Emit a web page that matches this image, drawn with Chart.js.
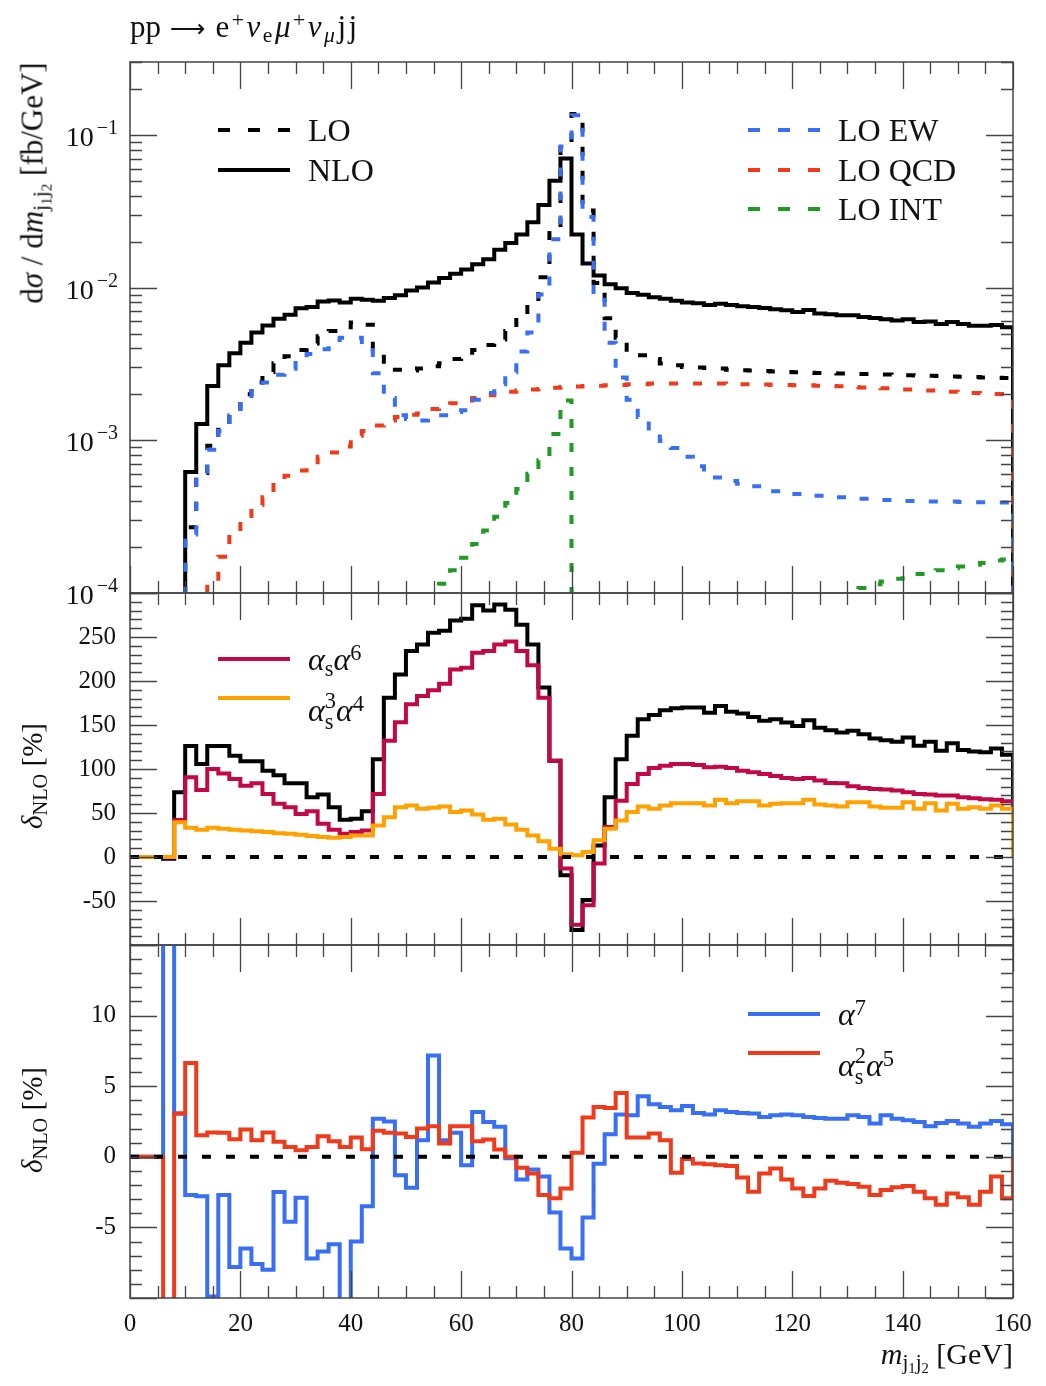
<!DOCTYPE html>
<html><head><meta charset="utf-8">
<script src="https://cdn.jsdelivr.net/npm/chart.js@4.4.1/dist/chart.umd.min.js"></script>
<style>
body{margin:0;background:#fff;}
#wrap{position:relative;width:1046px;height:1386px;overflow:hidden;font-family:"Liberation Serif","DejaVu Serif",serif;color:#111;background:#fff;}
canvas{position:absolute;left:0;}
.txt{position:absolute;white-space:nowrap;line-height:1;z-index:5;}
sub,sup{font-size:0.7em;line-height:0;position:relative;vertical-align:baseline;}
sup{top:-0.45em;} sub{top:0.25em;}
.ss{display:inline-block;font-size:0.7em;line-height:0.95;position:relative;top:0.36em;text-align:left;}
.ss>span{display:block;}
.ytitle{transform:translate(-50%,-50%) rotate(-90deg);}
.leg{position:absolute;z-index:5;white-space:nowrap;line-height:1;font-size:32px;}
.leg svg{position:absolute;left:0;}
.arrow{font-family:"DejaVu Sans",sans-serif;font-size:0.8em;margin:0 10px 0 9px;}
.math{letter-spacing:2.5px;}
</style></head>
<body>
<div id="wrap">
  <canvas id="c1" width="1046" height="633" style="top:0px"></canvas>
  <canvas id="c2" width="1046" height="432" style="top:553px"></canvas>
  <canvas id="c3" width="1046" height="481" style="top:905px"></canvas>

  <div class="txt" style="left:130px;top:11px;font-size:31px">pp<span class="arrow">⟶</span><span class="math">e<sup>+</sup><i>ν</i><sub>e</sub><i>μ</i><sup>+</sup><i>ν</i><sub><i>μ</i></sub>jj</span></div>
  <div class="txt ytitle" style="left:32px;top:183px;font-size:31px">d<i>σ</i> / d<i>m</i><sub>j<sub>1</sub>j<sub>2</sub></sub> [fb/GeV]</div>
  <div class="txt ytitle" style="left:32px;top:776px;font-size:29px"><i>δ</i><sub>NLO</sub> [%]</div>
  <div class="txt ytitle" style="left:32px;top:1120px;font-size:29px"><i>δ</i><sub>NLO</sub> [%]</div>
  <div class="txt" style="right:33px;top:1339px;font-size:30px"><i>m</i><sub>j<sub>1</sub>j<sub>2</sub></sub> [GeV]</div>
  <div id="legends"></div>
</div>
<script>
// ---------------- data ----------------
const binStart = 0;
const binWidth = 2;
const xTicks = [0, 20, 40, 60, 80, 100, 120, 140, 160];
const topYTicks = [1e-4, 1e-3, 1e-2, 1e-1];
const midYTicks = [-50, 0, 50, 100, 150, 200, 250];
const botYTicks = [-5, 0, 5, 10];

// d sigma / d m_j1j2 [fb/GeV], 2 GeV bins from 0 to 160
const nloValues = [0,0,0,0,0,
 6.2e-4,1.28e-3,2.27e-3,3.10e-3,3.72e-3,
 4.35e-3,5.08e-3,5.64e-3,6.25e-3,6.65e-3,
 7.31e-3,7.46e-3,8.11e-3,8.24e-3,7.98e-3,
 8.45e-3,8.32e-3,8.2e-3,8.55e-3,8.91e-3,
 9.58e-3,1.0e-2,1.079e-2,1.156e-2,1.23e-2,
 1.315e-2,1.42e-2,1.53e-2,1.77e-2,1.96e-2,
 2.23e-2,2.68e-2,3.47e-2,5.0e-2,7.0e-2,
 2.23e-2,1.435e-2,1.20e-2,1.05e-2,9.89e-3,
 9.23e-3,8.99e-3,8.63e-3,8.45e-3,8.19e-3,
 7.98e-3,7.9e-3,7.7e-3,7.85e-3,7.7e-3,
 7.55e-3,7.45e-3,7.35e-3,7.2e-3,7.1e-3,
 6.93e-3,7.12e-3,6.76e-3,6.7e-3,6.59e-3,
 6.59e-3,6.42e-3,6.33e-3,6.2e-3,6.09e-3,
 6.2e-3,5.94e-3,6.0e-3,5.78e-3,5.94e-3,
 5.78e-3,5.63e-3,5.63e-3,5.68e-3,5.49e-3];

const loValues = [0,0,0,0,0,
 2.69e-4,6.1e-4,9.2e-4,1.25e-3,1.6e-3,
 2.0e-3,2.4e-3,2.8e-3,3.2e-3,3.55e-3,
 3.9e-3,4.3e-3,4.8e-3,5.2e-3,5.5e-3,
 5.9e-3,5.7e-3,3.95e-3,3.05e-3,2.9e-3,
 2.86e-3,2.95e-3,3.05e-3,3.2e-3,3.4e-3,
 3.56e-3,3.9e-3,4.2e-3,4.57e-3,5.2e-3,
 6.4e-3,8.1e-3,1.17e-2,2.4e-2,8.7e-2,
 0.137,3.2e-2,1.07e-2,6.3e-3,4.7e-3,
 3.92e-3,3.6e-3,3.4e-3,3.18e-3,3.1e-3,
 3.02e-3,3.0e-3,2.97e-3,2.95e-3,2.9e-3,
 2.88e-3,2.86e-3,2.84e-3,2.82e-3,2.8e-3,
 2.79e-3,2.77e-3,2.76e-3,2.75e-3,2.74e-3,
 2.73e-3,2.72e-3,2.71e-3,2.7e-3,2.68e-3,
 2.67e-3,2.66e-3,2.65e-3,2.64e-3,2.62e-3,
 2.61e-3,2.6e-3,2.58e-3,2.57e-3,2.56e-3];

const loEwValues = [0,0,0,0,0,
 2.42e-4,6.0e-4,8.67e-4,1.15e-3,1.46e-3,
 1.79e-3,2.10e-3,2.39e-3,2.69e-3,2.94e-3,
 3.35e-3,3.68e-3,3.95e-3,4.53e-3,4.70e-3,
 4.70e-3,4.1e-3,2.75e-3,1.89e-3,1.46e-3,
 1.38e-3,1.35e-3,1.38e-3,1.46e-3,1.53e-3,
 1.57e-3,1.84e-3,2.04e-3,2.33e-3,2.79e-3,
 3.81e-3,5.08e-3,9.0e-3,2.07e-2,8.4e-2,
 0.1345,2.9e-2,9.37e-3,4.35e-3,2.58e-3,
 1.84e-3,1.42e-3,1.13e-3,9.9e-4,8.89e-4,
 7.8e-4,6.75e-4,6.18e-4,5.71e-4,5.42e-4,
 5.2e-4,5.01e-4,4.76e-4,4.64e-4,4.52e-4,
 4.45e-4,4.36e-4,4.33e-4,4.25e-4,4.23e-4,
 4.18e-4,4.14e-4,4.07e-4,4.07e-4,4.05e-4,
 4.01e-4,4.01e-4,3.97e-4,3.97e-4,3.97e-4,
 3.95e-4,3.93e-4,3.93e-4,3.91e-4,3.91e-4];

const loQcdValues = [0,0,0,0,0,
 0,0,1.2e-4,1.73e-4,2.46e-4,
 3.09e-4,3.77e-4,4.23e-4,5.09e-4,5.86e-4,
 6.34e-4,6.85e-4,7.8e-4,8.31e-4,9.12e-4,
 1.07e-3,1.15e-3,1.25e-3,1.35e-3,1.42e-3,
 1.47e-3,1.50e-3,1.60e-3,1.70e-3,1.75e-3,
 1.82e-3,1.89e-3,1.97e-3,2.01e-3,2.08e-3,
 2.12e-3,2.15e-3,2.17e-3,2.21e-3,2.23e-3,
 2.25e-3,2.27e-3,2.28e-3,2.29e-3,2.30e-3,
 2.33e-3,2.33e-3,2.35e-3,2.35e-3,2.35e-3,
 2.35e-3,2.35e-3,2.35e-3,2.35e-3,2.34e-3,
 2.33e-3,2.33e-3,2.32e-3,2.30e-3,2.30e-3,
 2.29e-3,2.29e-3,2.28e-3,2.27e-3,2.26e-3,
 2.23e-3,2.22e-3,2.21e-3,2.19e-3,2.17e-3,
 2.15e-3,2.14e-3,2.12e-3,2.10e-3,2.08e-3,
 2.07e-3,2.04e-3,2.03e-3,2.01e-3,2.00e-3];

const loIntValues = [0,0,0,0,0, 0,0,0,0,0, 0,0,0,0,0, 0,0,0,0,0, 0,0,0,0,0, 0,0,
 9.5e-5,1.15e-4,1.41e-4,1.70e-4,2.09e-4,2.57e-4,3.16e-4,3.89e-4,4.79e-4,6.03e-4,7.41e-4,1.10e-3,1.82e-3,
 0,0,0,0,0, 0,0,0,0,0, 0,0,0,0,0, 0,0,0,0,0, 0,0,0,
 6e-5,8.5e-5,1.02e-4,1.08e-4,1.14e-4,1.19e-4,1.24e-4,1.29e-4,1.33e-4,1.37e-4,1.41e-4,1.45e-4,1.49e-4,1.53e-4,1.57e-4,1.63e-4,1.66e-4];

// relative corrections delta_NLO [%]
const deltaNloTotal = [0,0,0,-2,73.6,
 126,105.7,126,126,115,
 108.7,108.7,98,93,83.8,
 83.8,68,71,56.6,42.3,
 43.4,52,111,181,207.5,
 234,241.5,254.7,257,268.7,
 270.6,286,280,286.8,281,
 264,241.5,192.5,109.4,-20.8,
 -83,-49,13.2,68,111,
 137.8,156.6,161.5,166.8,169,
 169.8,169.8,164,171.7,165,
 163,159,154.7,156.6,152.8,
 149,155.5,147,144,141.5,
 143.4,139.6,134.7,132.8,131,
 135.9,126.4,131,120.8,129.4,
 121.5,120,118.9,123.4,116.2];

const deltaAsA6 = [0,0,0,0,42,
 90.6,76,100,95,88.7,
 81,83.8,71.7,60.4,56.6,
 49,52,37.7,31,26.4,
 28.3,30.2,71.7,132,153,
 173.6,183,189.5,197,213,
 215,232,234,241.5,245,
 234,218,181,109.4,-13.2,
 -77,-54.7,-7.5,34,64,
 83,94.4,101,103.8,105.7,
 105.7,104.5,101.9,102.6,101,
 98,96.2,94.4,92,89.8,
 88.7,89.8,86.8,84,83.8,
 80.4,78.5,77.4,76.6,75.5,
 73.6,71.7,71,69.8,69.8,
 68,66.8,65.7,65,63.4];

const deltaAs3A4 = [0,0,0,0,39.6,
 33.2,31,33.2,32,31,
 30,29.4,28.3,27,26.4,
 25.3,23.8,22.6,21.9,22.6,
 24.5,24.5,35.8,45.3,56.6,
 58.5,54.7,55.9,57.4,51,
 52.8,48.3,42.3,43.4,37,
 31,24.5,18,9.4,3,
 1.9,5.7,18.9,32,41.5,
 51,57.4,54.7,58.5,61,
 61,61,58.5,65,61,
 63.4,63.4,58.5,60.4,61,
 61,65,59.6,58.5,57.4,
 62.3,62.3,57.4,55.9,55.9,
 62.3,54.7,61,52.8,60.4,
 54.7,56.6,54.7,58.5,54.7];

const deltaA7 = [0,0,0,40,3.06,
 -2.7,-2.8,-9.9,-2.7,-7.8,
 -6.5,-7.6,-8.0,-2.5,-4.6,
 -2.9,-7.2,-6.7,-6.2,-11,
 -6.0,-3.5,2.7,2.5,-1.3,
 -2.2,1.18,7.18,1.18,1.7,
 -0.6,3.18,2.47,2.12,-0.1,
 -1.6,-0.9,-1.4,-3.95,-6.5,
 -7.2,-4.3,-0.5,1.6,3.0,
 2.94,4.28,3.72,3.53,3.3,
 3.6,3.1,3.0,3.3,3.18,
 3.1,3.06,2.82,2.94,3.0,
 2.94,2.82,2.75,2.7,2.7,
 2.94,2.82,2.35,2.94,2.7,
 2.59,2.47,2.16,2.4,2.54,
 2.35,2.12,2.35,2.54,2.3];

const deltaAs2A5 = [0,0,0,-40,3.06,
 6.64,1.53,1.72,1.7,1.25,
 1.93,1.18,1.72,1.06,0.7,
 0.47,0.7,1.46,1.1,0.7,
 1.36,0.54,1.84,1.7,1.65,
 1.4,2.0,2.16,0.94,2.16,
 2.16,1.1,1.22,0.52,0,
 -0.78,-1.18,-2.7,-2.94,-2.24,
 0.28,2.78,3.53,3.46,4.52,
 1.36,1.36,1.65,1.18,-1.13,
 -0.15,-0.47,-0.52,-0.6,-0.66,
 -1.46,-2.47,-1.18,-0.82,-1.6,
 -2.24,-2.78,-2.24,-1.7,-1.84,
 -1.93,-2.12,-2.7,-2.35,-2.16,
 -2.07,-2.47,-2.94,-3.4,-2.6,
 -2.87,-3.4,-2.47,-1.4,-2.94];

// ---------------- styles ----------------
const COL = {
  black: '#000000', ew: '#386ff5', qcd: '#ee3b1c', int: '#1f9b24',
  asa6: '#c20845', as3a4: '#ffa100', a7: '#386ff5', as2a5: '#ee3b1c'
};
const DASH = [9, 15];
const FONT = '"Liberation Serif","DejaVu Serif",serif';
const X_MIN = binStart, X_MAX = binStart + binWidth * nloValues.length;

Chart.defaults.font.family = FONT;
Chart.defaults.color = '#111';

// histogram outline built from bin edges + values
function steps(vals, floor) {
  const pts = [{x: binStart, y: floor}];
  vals.forEach((v, i) => {
    const lo = binStart + i * binWidth, hi = lo + binWidth;
    const y = (v === 0) ? floor : v;
    pts.push({x: lo, y}, {x: hi, y});
  });
  pts.push({x: binStart + vals.length * binWidth, y: floor});
  return pts;
}
function ds(label, vals, floor, color, dashed) {
  return { label, data: steps(vals, floor), borderColor: color, borderWidth: 4,
    borderDash: dashed ? DASH : [], pointRadius: 0, fill: false, tension: 0,
    borderJoinStyle: 'miter', borderCapStyle: 'butt' };
}
function zeroLine() {
  return { label: 'zero', data: [{x: X_MIN, y: 0}, {x: X_MAX, y: 0}], borderColor: '#000',
    borderWidth: 4, borderDash: DASH, pointRadius: 0, fill: false, borderCapStyle: 'butt' };
}

const frameTicks = {
  id: 'frameTicks',
  afterDatasetsDraw(chart, args, o) {
    const {ctx, chartArea: a} = chart;
    const xs = chart.scales.x, ys = chart.scales.y;
    ctx.save();
    ctx.strokeStyle = '#444';
    ctx.lineWidth = 1.3;
    ctx.beginPath();
    for (let v = xs.min; v <= xs.max + 1e-9; v += o.xMinor) {
      const p = Math.round(xs.getPixelForValue(v)) + 0.5;
      const L = (Math.abs(v % o.xMajor) < 1e-6) ? o.major : o.minor;
      ctx.moveTo(p, a.bottom); ctx.lineTo(p, a.bottom - L);
      ctx.moveTo(p, a.top); ctx.lineTo(p, a.top + L);
    }
    const yt = [];
    if (o.log) {
      for (let e = Math.floor(Math.log10(ys.min)); e <= Math.ceil(Math.log10(ys.max)); e++) {
        for (let m = 1; m <= 9; m++) {
          const v = m * Math.pow(10, e);
          if (v >= ys.min * 0.999 && v <= ys.max * 1.001) yt.push([v, m === 1]);
        }
      }
    } else {
      for (let v = ys.min; v <= ys.max + 1e-9; v += o.yMinor) yt.push([v, Math.abs(v % o.yMajor) < 1e-6]);
    }
    yt.forEach(([v, major]) => {
      const p = Math.round(ys.getPixelForValue(v)) + 0.5;
      const L = major ? o.major : o.minor;
      ctx.moveTo(a.left, p); ctx.lineTo(a.left + L, p);
      ctx.moveTo(a.right, p); ctx.lineTo(a.right - L, p);
    });
    ctx.stroke();
    ctx.lineWidth = 1.5;
    ctx.strokeRect(a.left, a.top, a.right - a.left, a.bottom - a.top);
    ctx.restore();
  },
  afterDraw(chart, args, o) {
    if (!o.powLabels) return;
    const ys = chart.scales.y, ctx = chart.ctx;
    const right = chart.chartArea.left - 12;
    ctx.save();
    ctx.fillStyle = '#111';
    ctx.textBaseline = 'alphabetic';
    ctx.textAlign = 'left';
    ys.ticks.forEach((t) => {
      const p = ys.getPixelForValue(t.value);
      const e = Math.round(Math.log10(t.value));
      const base = '10', exp = (e < 0 ? '\u2212' : '') + Math.abs(e);
      ctx.font = '28px ' + FONT;
      const wb = ctx.measureText(base).width;
      ctx.font = '20px ' + FONT;
      const we = ctx.measureText(exp).width;
      const x0 = right - we - wb - 3;
      ctx.font = '28px ' + FONT;
      ctx.fillText(base, x0, p + 11);
      ctx.font = '20px ' + FONT;
      ctx.fillText(exp, x0 + wb + 3, p - 1);
    });
    ctx.restore();
  }
};

function xScale(showLabels) {
  return { type: 'linear', min: X_MIN, max: X_MAX, display: showLabels,
    grid: {display: false, drawTicks: false}, border: {display: false},
    afterBuildTicks: s => { s.ticks = xTicks.map(v => ({value: v})); },
    afterFit: s => { s.height = showLabels ? 40 : 0; },
    ticks: { font: {size: 25}, padding: 11, maxRotation: 0, autoSkip: false, color: '#111',
      callback: v => String(v) } };
}

function makeChart(id, datasets, yScale, showX, padding, tickOpts) {
  return new Chart(document.getElementById(id), {
    type: 'line',
    data: { datasets },
    options: {
      responsive: false, animation: false, devicePixelRatio: 1,
      layout: { padding },
      plugins: { legend: {display: false}, tooltip: {enabled: false}, frameTicks: tickOpts },
      scales: { x: xScale(showX), y: yScale }
    },
    plugins: [frameTicks]
  });
}

const TINY = 1e-9;
// ---- top panel ----
makeChart('c1', [
  ds('LO EW', loEwValues, TINY, COL.ew, true),
  ds('LO QCD', loQcdValues, TINY, COL.qcd, true),
  ds('LO INT', loIntValues, TINY, COL.int, true),
  ds('LO', loValues, TINY, COL.black, true),
  ds('NLO', nloValues, TINY, COL.black, false)
], {
  type: 'logarithmic', min: 1e-4, max: 0.3,
  grid: {display: false, drawTicks: false}, border: {display: false},
  afterBuildTicks: s => { s.ticks = topYTicks.map(v => ({value: v})); },
  afterFit: s => { s.width = 130; },
  ticks: { display: false }
}, false, {left: 0, right: 33, top: 62, bottom: 40},
{xMinor: 5, xMajor: 20, log: true, major: 27, minor: 12, powLabels: true});

// ---- middle panel ----
makeChart('c2', [
  zeroLine(),
  ds('αs³α⁴', deltaAs3A4, 0, COL.as3a4, false),
  ds('αsα⁶', deltaAsA6, 0, COL.asa6, false),
  ds('NLO', deltaNloTotal, 0, COL.black, false)
], {
  type: 'linear', min: -100, max: 300,
  grid: {display: false, drawTicks: false}, border: {display: false},
  afterBuildTicks: s => { s.ticks = midYTicks.map(v => ({value: v})); },
  afterFit: s => { s.width = 130; },
  ticks: { font: {size: 25}, padding: 14, color: '#111', callback: v => String(v) }
}, false, {left: 0, right: 33, top: 40, bottom: 40},
{xMinor: 5, xMajor: 20, log: false, yMinor: 10, yMajor: 50, major: 27, minor: 12});

// ---- bottom panel ----
makeChart('c3', [
  zeroLine(),
  ds('αs²α⁵', deltaAs2A5, 0, COL.as2a5, false),
  ds('α⁷', deltaA7, 0, COL.a7, false)
], {
  type: 'linear', min: -10, max: 15,
  grid: {display: false, drawTicks: false}, border: {display: false},
  afterBuildTicks: s => { s.ticks = botYTicks.map(v => ({value: v})); },
  afterFit: s => { s.width = 130; },
  ticks: { font: {size: 25}, padding: 14, color: '#111', callback: v => String(v) }
}, true, {left: 0, right: 33, top: 40, bottom: 48},
{xMinor: 5, xMajor: 20, log: false, yMinor: 1, yMajor: 5, major: 27, minor: 12});

// ---------------- legends (HTML) ----------------
const legendGroups = [
  {x: 218, items: [
    {y: 130, html: 'LO', color: COL.black, dashed: true},
    {y: 170, html: 'NLO', color: COL.black, dashed: false}]},
  {x: 748, items: [
    {y: 130, html: 'LO EW', color: COL.ew, dashed: true},
    {y: 170, html: 'LO QCD', color: COL.qcd, dashed: true},
    {y: 209, html: 'LO INT', color: COL.int, dashed: true}]},
  {x: 218, items: [
    {y: 659, html: '<i>α</i><sub>s</sub><i>α</i><sup>6</sup>', color: COL.asa6, dashed: false},
    {y: 698, html: '<i>α</i><span class="ss"><span>3</span><span>s</span></span><i>α</i><sup>4</sup>', color: COL.as3a4, dashed: false}]},
  {x: 748, items: [
    {y: 1014, html: '<i>α</i><sup>7</sup>', color: COL.a7, dashed: false},
    {y: 1053, html: '<i>α</i><span class="ss"><span>2</span><span>s</span></span><i>α</i><sup>5</sup>', color: COL.as2a5, dashed: false}]}
];
const legRoot = document.getElementById('legends');
legendGroups.forEach(g => g.items.forEach(it => {
  const d = document.createElement('div');
  d.className = 'leg';
  d.style.left = g.x + 'px';
  d.style.top = (it.y - 16) + 'px';
  d.style.height = '32px';
  d.innerHTML = '<svg width="72" height="8" style="top:12px"><line x1="0" y1="4" x2="72" y2="4" stroke="' + it.color +
    '" stroke-width="4"' + (it.dashed ? ' stroke-dasharray="12 18"' : '') + '/></svg>' +
    '<span style="position:relative;left:90px">' + it.html + '</span>';
  legRoot.appendChild(d);
}));
</script>
</body></html>
